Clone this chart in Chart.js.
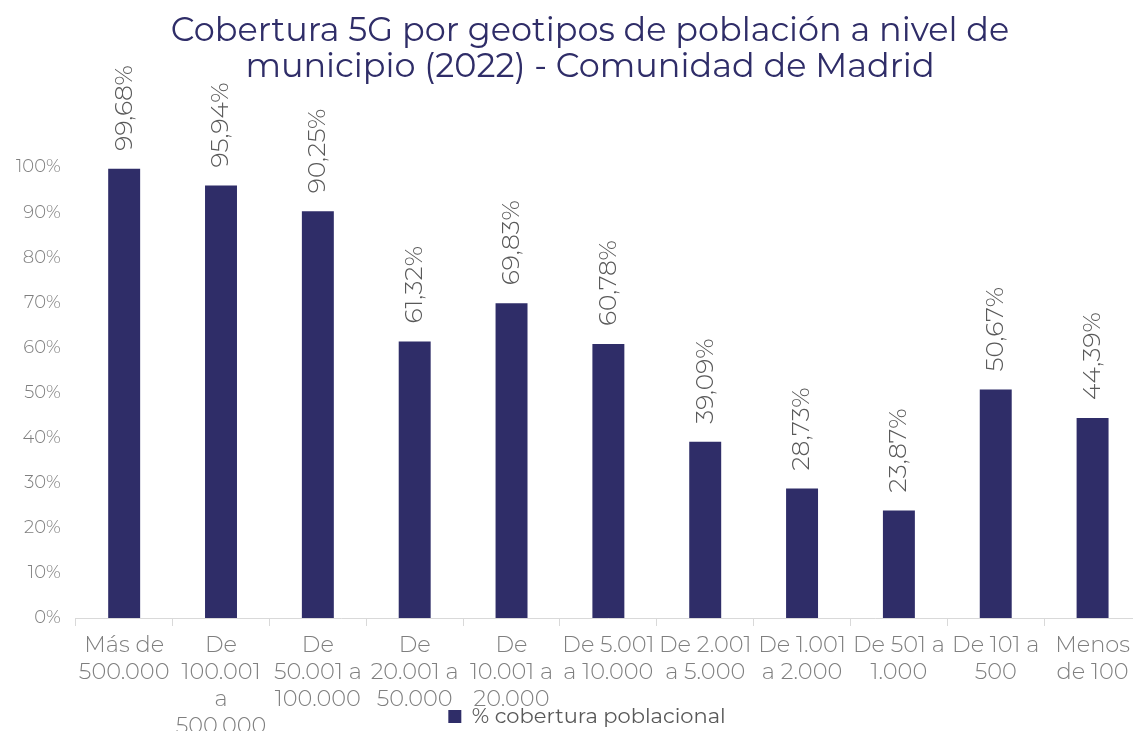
<!DOCTYPE html>
<html>
<head>
<meta charset="utf-8">
<script src="https://cdn.jsdelivr.net/npm/chart.js@4"></script>
<style>
  html, body { margin: 0; padding: 0; overflow: hidden; background: #fff; }
  #wrap { width: 1180px; height: 731px; }
</style>
</head>
<body>
<div id="wrap"><canvas id="bar"></canvas></div>
<script>
const categories = [
  ['Más de', '500.000'],
  ['De', '100.001', 'a', '500.000'],
  ['De', '50.001 a', '100.000'],
  ['De', '20.001 a', '50.000'],
  ['De', '10.001 a', '20.000'],
  ['De 5.001', 'a 10.000'],
  ['De 2.001', 'a 5.000'],
  ['De 1.001', 'a 2.000'],
  ['De 501 a', '1.000'],
  ['De 101 a', '500'],
  ['Menos', 'de 100']
]
const coverage = [99.68, 95.94, 90.25, 61.32, 69.83, 60.78, 39.09, 28.73, 23.87, 50.67, 44.39]
const seriesLabel = '% cobertura poblacional'
const titleLines = ['Cobertura 5G por geotipos de población a nivel de', 'municipio (2022) - Comunidad de Madrid']

const navy = '#2f2d68'
const font = 'Montserrat, "Open Sans", sans-serif'
const sidePad = 39

const barLabels = {
  id: 'barLabels',
  afterLayout (chart) {
    // que las etiquetas del eje x no se recorten por encima de la leyenda
    chart.scales.x.bottom = chart.height
    // titulo y leyenda centrados en el lienzo entero
    const t = chart.titleBlock
    t.left = sidePad
    t.right = chart.width - sidePad
    const lg = chart.legend
    lg.left = sidePad - 3
    lg.right = chart.width - sidePad - 3
    lg.top += 6
    lg.bottom += 6
  },
  // etiquetas verticales encima de cada barra
  afterDatasetsDraw (chart) {
    const { ctx } = chart
    const meta = chart.getDatasetMeta(0)
    ctx.save()
    ctx.fillStyle = '#595959'
    ctx.font = '300 25px ' + font
    ctx.textAlign = 'left'
    ctx.textBaseline = 'middle'
    meta.data.forEach((bar, i) => {
      const txt = coverage[i].toFixed(2).replace('.', ',') + '%'
      ctx.save()
      ctx.translate(bar.x, bar.y - 18)
      ctx.rotate(-Math.PI / 2)
      ctx.fillText(txt, 0, 0)
      ctx.restore()
    })
    ctx.restore()
  }
}

new Chart(document.getElementById('bar'), {
  type: 'bar',
  data: {
    labels: categories,
    datasets: [
      {
        label: seriesLabel,
        data: coverage,
        backgroundColor: navy,
        barPercentage: 0.66,
        categoryPercentage: 0.5
      }
    ]
  },
  options: {
    responsive: true,
    maintainAspectRatio: false,
    animation: false,
    layout: { padding: { left: 1, right: sidePad, top: 13, bottom: 0 } },
    plugins: {
      title: {
        display: true,
        text: titleLines,
        color: navy,
        font: { family: font, size: 33.5, weight: 'normal', lineHeight: 1.07 },
        padding: { top: 0, bottom: 82.5 }
      },
      legend: {
        position: 'bottom',
        labels: {
          color: '#595959',
          font: { family: font, size: 21 },
          boxWidth: 13,
          boxHeight: 13,
          padding: 4
        }
      },
      tooltip: { enabled: false }
    },
    scales: {
      x: {
        grid: { display: true, drawOnChartArea: false, drawTicks: true, tickLength: 8, color: '#d9d9d9', offset: true },
        border: { display: true, color: '#d9d9d9' },
        ticks: {
          color: '#7f7f7f',
          font: { family: font, size: 22.5, weight: 300, lineHeight: 1.2 },
          maxRotation: 0,
          autoSkip: false,
          padding: 6
        },
        afterFit (axis) { axis.height = 78 }
      },
      y: {
        min: 0,
        max: 100,
        grid: { display: false, drawTicks: false },
        border: { display: false },
        ticks: {
          stepSize: 10,
          color: '#7f7f7f',
          font: { family: font, size: 18, weight: 300 },
          padding: 15,
          callback: (v) => v + '%'
        }
      }
    }
  },
  plugins: [barLabels]
})
</script>
</body>
</html>
